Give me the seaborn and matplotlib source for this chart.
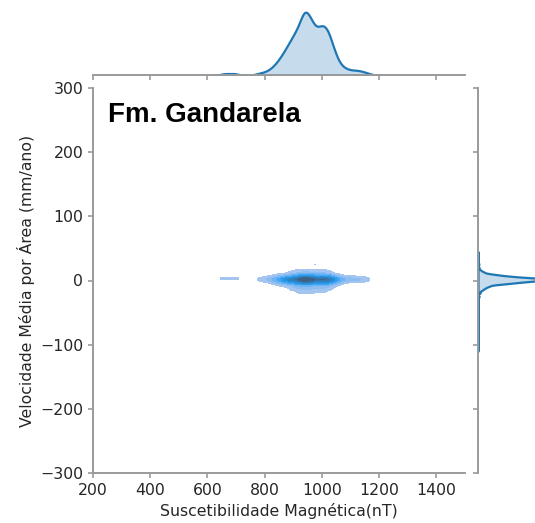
import numpy as np
import pandas as pd
import matplotlib
matplotlib.use("Agg")
import matplotlib.pyplot as plt
import seaborn as sns

# Magnetic susceptibility (nT) bins and how many area cells fall in each
susc_nt = [780, 800, 820, 840, 860, 880, 900, 920, 940, 960,
           980, 1000, 1020, 1040, 1060, 1080, 1100, 1120, 1140, 1160]
susc_count = [2, 3, 6, 12, 20, 30, 40, 50, 70, 58,
              45, 52, 48, 28, 12, 7, 5, 5, 4, 2]
# Which velocity profile applies to each bin (0 narrow, 1 medium, 2 wide)
susc_profile = [0, 0, 0, 1, 1, 1, 2, 2, 2, 2,
                2, 2, 2, 1, 1, 0, 0, 0, 0, 0]

# Mean velocity per area (mm/ano) levels
vel_mm = [-100, -60, -35, -25, -19, -15, -12, -9, -6, -4, -2, 0,
          2, 4, 6, 8, 10, 13, 16, 20, 26, 35]
# Share (%) of cells at each velocity level, for the three profiles
vel_narrow = [0, 0, 0, 0, 0, 0, 0, 0.3, 1, 4, 12, 22,
              28, 18, 9, 4, 1.5, 0.5, 0, 0, 0, 0]
vel_medium = [0, 0, 0, 0, 0, 0.3, 1, 2.5, 5, 9, 13, 18,
              21, 14, 9, 5, 2.5, 1, 0.3, 0, 0, 0]
vel_wide = [0.1, 0.1, 0.2, 0.6, 1.2, 2, 3, 4.5, 6, 8, 10, 13,
            16, 11, 8, 5.5, 4, 2.5, 1.2, 0.6, 0.3, 0.15]

# Small separate group of cells and a few isolated cells above the cloud
extra_susc = [662, 692, 975]
extra_vel = [3, 3, 25]
extra_count = [2.3, 2.3, 0.8]

profiles = [vel_narrow, vel_medium, vel_wide]
rows = []
for xv, cnt, p in zip(susc_nt, susc_count, susc_profile):
    shares = profiles[p]
    total = sum(shares)
    for yv, sh in zip(vel_mm, shares):
        if sh > 0:
            rows.append((xv, yv, cnt * sh / total))
for xv, yv, cnt in zip(extra_susc, extra_vel, extra_count):
    rows.append((xv, yv, cnt))
df = pd.DataFrame(rows, columns=["susc", "vel", "w"])

W, H = 535, 523
g = sns.JointGrid(data=df, x="susc", y="vel", height=5.23, ratio=5, space=0.1)
g.figure.set_size_inches(W / 100, H / 100)

g.plot_joint(sns.kdeplot, weights=df["w"], fill=True, bw_adjust=0.42)
g.plot_marginals(sns.kdeplot, weights=df["w"], fill=True, bw_adjust=0.5,
                 linewidth=1.6)

ax = g.ax_joint
ax.set_xlim(200, 1500)
ax.set_ylim(-300, 300)
ax.set_xticks(range(200, 1401, 200))
ax.set_yticks(range(-300, 301, 100))

# Axes placement in pixels (left, top, right, bottom from the top-left corner)
def place(a, l, t, r, b):
    a.set_position([l / W, (H - b) / H, (r - l) / W, (b - t) / H])

place(ax, 93, 88, 465, 473)
place(g.ax_marg_x, 93, 9, 465, 75)
place(g.ax_marg_y, 478, 88, 552, 473)

spine_col = "#9a9a9a"
text_col = "#262626"
for a in (ax, g.ax_marg_x, g.ax_marg_y):
    for s in a.spines.values():
        s.set_color(spine_col)
        s.set_linewidth(1.4)
    a.tick_params(colors=spine_col, labelcolor=text_col, labelsize=11.3,
                  width=1.2, length=3.5)

ax.set_xlabel("Suscetibilidade Magnética(nT)", fontsize=11.3, color=text_col)
ax.set_ylabel("Velocidade Média por Área (mm/ano)", fontsize=11.3, color=text_col)

ax.text(0.04, 0.912, "Fm. Gandarela", transform=ax.transAxes,
        fontsize=20, fontweight="bold", family="Liberation Sans",
        va="baseline", ha="left", color="black")

g.figure.savefig("out.png", dpi=100)
